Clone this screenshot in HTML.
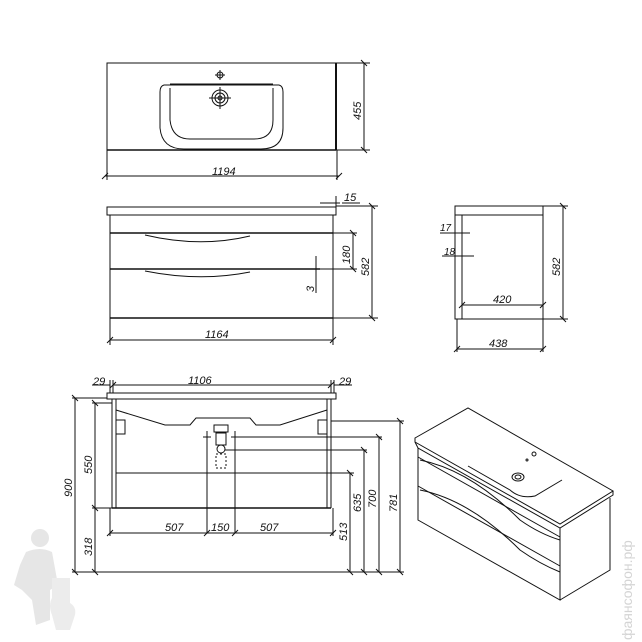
<!DOCTYPE html>
<html><head><meta charset="utf-8"><style>
html,body{margin:0;padding:0;background:#fff;}
svg{display:block;}
text{font-family:"Liberation Sans",sans-serif;font-style:italic;font-size:11px;fill:#111;}
</style></head><body>
<svg width="642" height="642" viewBox="0 0 642 642" xmlns="http://www.w3.org/2000/svg">
<defs>
<marker id="t" viewBox="-4 -4 8 8" markerWidth="8" markerHeight="8" refX="0" refY="0" orient="auto" markerUnits="userSpaceOnUse"><path d="M-3,3 L3,-3" stroke="#111" stroke-width="1"/></marker>
</defs>
<!-- watermark -->
<g fill="#e6e6e6" stroke="none">
<circle cx="40" cy="538" r="9"/>
<path d="M26,552 Q40,546 52,552 L58,585 L50,590 L50,620 L36,625 L32,600 L22,590 L14,585 L20,565 Z"/>
<path d="M52,578 L70,578 L70,603 Q78,608 74,618 L70,630 L56,630 L52,615 Q48,605 52,598 Z" fill="#ececec"/>
</g>
<text x="0" y="0" transform="translate(632,640) rotate(-90)" style="font-style:normal;font-size:14px;fill:#d4d4d4">фаянсофон.рф</text>

<g stroke="#111" stroke-width="1" fill="none">
<!-- TOP VIEW -->
<rect x="107" y="63" width="229" height="87"/>
<line x1="336" y1="63" x2="336" y2="150" stroke-width="2"/>
<line x1="107" y1="150" x2="336" y2="150" stroke-width="1.5"/>
<path d="M164,85 Q160,86 160,92 L160,128 Q162,149 184,149 L261,149 Q283,149 283,128 L283,92 Q283,86 279,85 Z"/>
<path d="M170,88 L170,120 Q172,139 190,139 L254,139 Q273,139 273,120 L273,88"/>
<line x1="170" y1="84" x2="273" y2="84"/>
<circle cx="220" cy="98" r="8"/><circle cx="220" cy="98" r="5"/><circle cx="220" cy="98" r="2"/>
<line x1="209" y1="98" x2="231" y2="98"/><line x1="220" y1="87" x2="220" y2="109"/>
<circle cx="220" cy="75" r="3"/><line x1="215" y1="75" x2="225" y2="75"/><line x1="220" y1="70" x2="220" y2="80"/>
<line x1="336" y1="63" x2="370" y2="63"/><line x1="336" y1="150" x2="370" y2="150"/>
<line x1="364" y1="63" x2="364" y2="150" marker-start="url(#t)" marker-end="url(#t)"/>
<line x1="107" y1="150" x2="107" y2="180"/><line x1="337" y1="150" x2="337" y2="180"/>
<line x1="105" y1="176" x2="339" y2="176" marker-start="url(#t)" marker-end="url(#t)"/>

<!-- FRONT VIEW -->
<rect x="107" y="207" width="229" height="8"/>
<rect x="110" y="215" width="223" height="103"/>
<line x1="110" y1="233" x2="333" y2="233" stroke-width="1.5"/>
<path d="M145,235 Q200,248 250,236"/>
<line x1="110" y1="269" x2="320" y2="269" stroke-width="1.5"/>
<path d="M145,271 Q200,282 250,272"/>
<line x1="110" y1="318" x2="333" y2="318" stroke-width="1.5"/>
<line x1="333" y1="233" x2="357" y2="233"/><line x1="320" y1="269" x2="357" y2="269"/>
<line x1="353" y1="233" x2="353" y2="269" marker-start="url(#t)" marker-end="url(#t)"/>
<line x1="316" y1="256" x2="316" y2="293"/>
<line x1="336" y1="206" x2="378" y2="206"/><line x1="333" y1="318" x2="378" y2="318"/>
<line x1="372" y1="206" x2="372" y2="318" marker-start="url(#t)" marker-end="url(#t)"/>
<line x1="320" y1="203" x2="340" y2="203"/><line x1="342" y1="203" x2="360" y2="203"/>
<line x1="336" y1="196" x2="336" y2="207"/>
<line x1="110" y1="318" x2="110" y2="345"/><line x1="333" y1="318" x2="333" y2="345"/>
<line x1="110" y1="340" x2="333" y2="340" marker-start="url(#t)" marker-end="url(#t)"/>

<!-- SIDE VIEW -->
<rect x="455" y="206" width="88" height="9"/>
<rect x="455" y="215" width="88" height="104"/>
<line x1="462" y1="215" x2="462" y2="319"/>
<line x1="462" y1="305" x2="543" y2="305" marker-start="url(#t)" marker-end="url(#t)"/>
<line x1="440" y1="233" x2="470" y2="233"/><line x1="442" y1="256" x2="474" y2="256"/>
<line x1="543" y1="206" x2="568" y2="206"/><line x1="543" y1="319" x2="568" y2="319"/>
<line x1="563" y1="206" x2="563" y2="319" marker-start="url(#t)" marker-end="url(#t)"/>
<line x1="457" y1="319" x2="457" y2="352"/><line x1="543" y1="319" x2="543" y2="352"/>
<line x1="457" y1="349" x2="543" y2="349" marker-start="url(#t)" marker-end="url(#t)"/>

<!-- BACK VIEW -->
<rect x="107" y="393" width="229" height="6"/>
<line x1="112" y1="399" x2="112" y2="508"/><line x1="116" y1="399" x2="116" y2="508"/>
<line x1="331" y1="399" x2="331" y2="508"/><line x1="327" y1="399" x2="327" y2="508"/>
<line x1="112" y1="508" x2="331" y2="508" stroke-width="1.5"/>
<path d="M116,410 L165,425 L190,425 L196,418 L250,418 L256,425 L280,425 L327,410"/>
<rect x="116" y="420" width="9" height="14"/><rect x="318" y="420" width="9" height="14"/>
<rect x="214" y="425" width="14" height="7"/>
<rect x="216" y="433" width="10" height="12"/><circle cx="221" cy="449" r="4"/>
<rect x="216" y="454" width="10" height="14" stroke-dasharray="2,2"/>
<line x1="207" y1="431" x2="207" y2="533"/><line x1="235" y1="431" x2="235" y2="533"/>
<line x1="203" y1="437" x2="211" y2="437"/><line x1="231" y1="437" x2="239" y2="437"/>
<line x1="235" y1="437" x2="382" y2="437"/>
<line x1="225" y1="450" x2="367" y2="450"/>
<line x1="116" y1="473" x2="354" y2="473"/>
<line x1="331" y1="421" x2="404" y2="421"/>
<line x1="110" y1="533" x2="333" y2="533" marker-start="url(#t)" marker-end="url(#t)"/>
<line x1="207" y1="533" x2="207" y2="533" marker-start="url(#t)"/><line x1="235" y1="533" x2="235" y2="533" marker-start="url(#t)"/>
<line x1="110" y1="508" x2="110" y2="536"/><line x1="333" y1="508" x2="333" y2="536"/>
<line x1="72" y1="572" x2="404" y2="572"/>
<line x1="72" y1="398" x2="107" y2="398"/><line x1="92" y1="403" x2="112" y2="403"/>
<line x1="92" y1="508" x2="112" y2="508"/>
<line x1="75" y1="398" x2="75" y2="572" marker-start="url(#t)" marker-end="url(#t)"/>
<line x1="95" y1="403" x2="95" y2="508" marker-start="url(#t)" marker-end="url(#t)"/>
<line x1="95" y1="508" x2="95" y2="572" marker-end="url(#t)"/>
<line x1="350" y1="473" x2="350" y2="572" marker-start="url(#t)" marker-end="url(#t)"/>
<line x1="364" y1="450" x2="364" y2="572" marker-start="url(#t)" marker-end="url(#t)"/>
<line x1="379" y1="437" x2="379" y2="572" marker-start="url(#t)" marker-end="url(#t)"/>
<line x1="400" y1="421" x2="400" y2="572" marker-start="url(#t)" marker-end="url(#t)"/>
<line x1="110" y1="380" x2="110" y2="393"/><line x1="113" y1="380" x2="113" y2="393"/>
<line x1="331" y1="380" x2="331" y2="393"/><line x1="334" y1="380" x2="334" y2="393"/>
<line x1="113" y1="385" x2="331" y2="385" marker-start="url(#t)" marker-end="url(#t)"/>
<line x1="92" y1="385" x2="110" y2="385"/><line x1="334" y1="385" x2="352" y2="385"/>

<!-- ISOMETRIC -->
<path d="M415,438 L468,408 L613,491 L560,524 L415,442 Z"/>
<path d="M415,442 L418,448 L560,528 L613,495 L613,491"/>
<path d="M418,448 L418,520 L560,600 L560,528"/>
<path d="M560,600 L610,570 L610,498"/>
<line x1="418" y1="457" x2="560" y2="537"/>
<line x1="418" y1="486" x2="560" y2="566"/>
<path d="M420,460 Q470,470 520,520 Q540,534 560,540"/>
<path d="M420,490 Q470,500 520,550 Q540,564 560,572"/>
<path d="M468,466 L510,490 Q520,499 535,496 L562,480"/>
<ellipse cx="518" cy="477" rx="6" ry="4"/><ellipse cx="518" cy="477" rx="3" ry="2"/>
<circle cx="534" cy="454" r="2"/><circle cx="527" cy="460" r="1"/>
</g>

<!-- labels -->
<text x="212" y="175">1194</text>
<text transform="translate(361,120) rotate(-90)">455</text>
<text x="344" y="201">15</text>
<text transform="translate(350,264) rotate(-90)">180</text>
<text transform="translate(369,276) rotate(-90)">582</text>
<text transform="translate(314,292) rotate(-90)">3</text>
<text x="205" y="338">1164</text>
<text x="440" y="231" style="font-size:10px">17</text>
<text x="444" y="255" style="font-size:10px">18</text>
<text x="493" y="303">420</text>
<text x="489" y="347">438</text>
<text transform="translate(560,276) rotate(-90)">582</text>
<text x="93" y="385">29</text>
<text x="188" y="384">1106</text>
<text x="339" y="385">29</text>
<text transform="translate(72,497) rotate(-90)">900</text>
<text transform="translate(92,474) rotate(-90)">550</text>
<text transform="translate(92,556) rotate(-90)">318</text>
<text x="165" y="531">507</text>
<text x="211" y="531">150</text>
<text x="260" y="531">507</text>
<text transform="translate(347,541) rotate(-90)">513</text>
<text transform="translate(361,512) rotate(-90)">635</text>
<text transform="translate(376,508) rotate(-90)">700</text>
<text transform="translate(397,512) rotate(-90)">781</text>
</svg>
</body></html>
